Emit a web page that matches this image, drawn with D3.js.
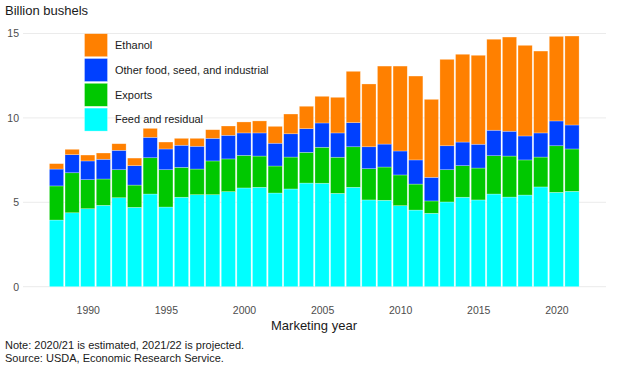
<!DOCTYPE html>
<html>
<head>
<meta charset="utf-8">
<script src="https://cdn.jsdelivr.net/npm/d3@7"></script>
<style>
  body { margin: 0; background: #fff; }
  svg { font-family: "Liberation Sans", Arial, sans-serif; }
</style>
</head>
<body>
<div id="chart"></div>
<script>
const years = d3.range(1988, 2022);
// billion bushels
const feed = [3.95, 4.38, 4.62, 4.82, 5.27, 4.70, 5.49, 4.72, 5.30, 5.45, 5.45, 5.63, 5.85, 5.89, 5.55, 5.79, 6.14,
  6.13, 5.53, 5.89, 5.14, 5.12, 4.80, 4.54, 4.35, 5.02, 5.30, 5.14, 5.49, 5.31, 5.43, 5.91, 5.59, 5.65];
const exports = [2.02, 2.37, 1.72, 1.56, 1.66, 1.32, 2.15, 2.21, 1.77, 1.52, 2.00, 1.94, 1.93, 1.85, 1.60, 1.89, 1.82,
  2.13, 2.14, 2.40, 1.85, 1.97, 1.82, 1.54, 0.73, 1.91, 1.87, 1.89, 2.27, 2.43, 2.08, 1.77, 2.76, 2.51];
const fsi = [1.00, 1.07, 1.11, 1.17, 1.15, 1.15, 1.21, 1.23, 1.31, 1.35, 1.34, 1.40, 1.33, 1.37, 1.35, 1.38, 1.40,
  1.44, 1.44, 1.43, 1.30, 1.36, 1.42, 1.43, 1.40, 1.42, 1.40, 1.41, 1.51, 1.47, 1.42, 1.43, 1.47, 1.42];
const ethanol = [0.32, 0.32, 0.35, 0.37, 0.39, 0.45, 0.53, 0.41, 0.41, 0.47, 0.51, 0.55, 0.65, 0.71, 1.00, 1.17, 1.33,
  1.58, 2.11, 3.04, 3.72, 4.62, 5.03, 4.97, 4.62, 5.12, 5.20, 5.27, 5.39, 5.58, 5.37, 4.85, 5.01, 5.27];

const seriesKeys = ['feed', 'exports', 'fsi', 'ethanol'];
const seriesLabels = {
  ethanol: 'Ethanol',
  fsi: 'Other food, seed, and industrial',
  exports: 'Exports',
  feed: 'Feed and residual'
};
const colors = { feed: '#00ffff', exports: '#00c800', fsi: '#0040ff', ethanol: '#ff8000' };
const yTicks = [0, 5, 10, 15];
const xTicks = [1990, 1995, 2000, 2005, 2010, 2015, 2020];

const width = 617, height = 368;
const svg = d3.select('#chart').append('svg')
  .attr('width', width).attr('height', height);

const rows = years.map((yr, i) => ({
  year: yr, feed: feed[i], exports: exports[i], fsi: fsi[i], ethanol: ethanol[i]
}));
const stacked = d3.stack().keys(seriesKeys)(rows);

const x = d3.scaleBand().domain(years).range([48.7, 579.8]).paddingInner(0.09).paddingOuter(0.045);
const y = d3.scaleLinear().domain([0, 15]).range([286.7, 33.5]);

// gridlines
svg.append('g').selectAll('line').data(yTicks).join('line')
  .attr('x1', 23).attr('x2', 606)
  .attr('y1', d => y(d)).attr('y2', d => y(d))
  .attr('stroke', '#ebebeb').attr('stroke-width', 1);

// y axis labels
const yAxis = svg.append('g').attr('transform', 'translate(19,0)')
  .call(d3.axisLeft(y).tickValues(yTicks).tickSize(0).tickPadding(0));
yAxis.select('.domain').remove();
yAxis.selectAll('text').attr('fill', '#4d4d4d').attr('font-size', 10.5)
  .attr('font-family', '"Liberation Sans", Arial, sans-serif');

// x axis labels
const xAxis = svg.append('g').attr('transform', 'translate(0,300.5)')
  .call(d3.axisBottom(d3.scaleLinear().domain([1988, 2021])
    .range([x(1988) + x.bandwidth() / 2, x(2021) + x.bandwidth() / 2]))
    .tickValues(xTicks).tickFormat(d3.format('d')).tickSize(0).tickPadding(6));
xAxis.select('.domain').remove();
xAxis.selectAll('text').attr('fill', '#4d4d4d').attr('font-size', 10.5)
  .attr('font-family', '"Liberation Sans", Arial, sans-serif');

// bars
svg.append('g').selectAll('g').data(stacked).join('g')
  .attr('fill', d => colors[d.key])
  .selectAll('rect').data(d => d).join('rect')
  .attr('x', d => x(d.data.year))
  .attr('width', x.bandwidth())
  .attr('y', d => y(d[1]))
  .attr('height', d => y(d[0]) - y(d[1]))
  .attr('stroke', 'rgba(255,255,255,0.45)')
  .attr('stroke-width', 0.6);

// legend
const legendOrder = ['ethanol', 'fsi', 'exports', 'feed'];
const legend = svg.append('g').attr('transform', 'translate(84.5,33.7)');
const li = legend.selectAll('g').data(legendOrder).join('g')
  .attr('transform', (d, i) => `translate(0,${i * 24.8})`);
li.append('rect').attr('width', 23).attr('height', 23)
  .attr('fill', d => colors[d])
  .attr('stroke', 'rgba(255,255,255,0.5)').attr('stroke-width', 0.6);
li.append('text').attr('x', 30.5).attr('y', 11.5).attr('dy', '0.35em')
  .attr('font-size', 11).attr('fill', '#1a1a1a')
  .text(d => seriesLabels[d]);

// titles and notes
svg.append('text').attr('x', 5).attr('y', 15)
  .attr('font-size', 13).attr('fill', '#1a1a1a').text('Billion bushels');
svg.append('text').attr('x', 314).attr('y', 330).attr('text-anchor', 'middle')
  .attr('font-size', 13).attr('fill', '#1a1a1a').text('Marketing year');
svg.append('text').attr('x', 5).attr('y', 348.5)
  .attr('font-size', 11).attr('fill', '#1a1a1a').text('Note: 2020/21 is estimated, 2021/22 is projected.');
svg.append('text').attr('x', 5).attr('y', 361.5)
  .attr('font-size', 11).attr('fill', '#1a1a1a').text('Source: USDA, Economic Research Service.');
</script>
</body>
</html>
